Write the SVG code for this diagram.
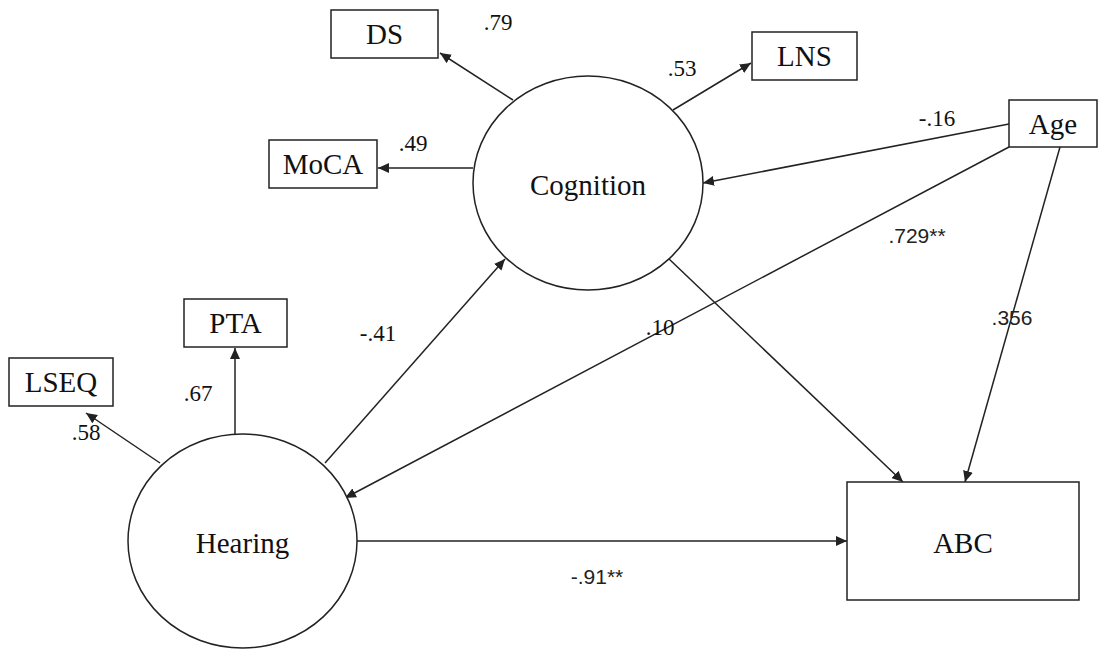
<svg xmlns="http://www.w3.org/2000/svg" width="1103" height="649" viewBox="0 0 1103 649">
<style>
.box{fill:#fff;stroke:#222;stroke-width:1.5}
.lat{fill:#fff;stroke:#222;stroke-width:1.5}
.nt{font-family:"Liberation Serif",serif;font-size:29px;fill:#111;text-anchor:middle;dominant-baseline:central}
.lbl{font-family:"Liberation Serif",serif;font-size:23px;fill:#111;text-anchor:middle}
.lbs{font-family:"Liberation Sans",sans-serif;font-size:21px;fill:#222;text-anchor:middle}
.edge{stroke:#222;stroke-width:1.5;fill:none;marker-end:url(#ah)}
</style>
<defs>
<marker id="ah" markerUnits="userSpaceOnUse" markerWidth="12" markerHeight="10" refX="11" refY="5" orient="auto">
<path d="M0,0 L11,5 L0,10 Z" fill="#222"/>
</marker>
</defs>
<rect width="1103" height="649" fill="#fff"/>
<g id="connectors">
<line class="edge" x1="513" y1="100" x2="440" y2="53"/>
<line class="edge" x1="473" y1="168" x2="378" y2="168"/>
<line class="edge" x1="673" y1="110" x2="751" y2="63"/>
<line class="edge" x1="1009" y1="124" x2="703" y2="183"/>
<line class="edge" x1="1009" y1="147" x2="345" y2="498"/>
<line class="edge" x1="1060" y1="147" x2="965" y2="482"/>
<line class="edge" x1="668" y1="258" x2="903" y2="482"/>
<line class="edge" x1="325" y1="463" x2="505" y2="259"/>
<line class="edge" x1="357" y1="541" x2="847" y2="541"/>
<line class="edge" x1="235" y1="434" x2="235" y2="348"/>
<line class="edge" x1="160" y1="463" x2="86" y2="413"/>
<text class="lbl" x="498" y="30">.79</text>
<text class="lbl" x="682" y="76">.53</text>
<text class="lbl" x="413" y="151">.49</text>
<text class="lbl" x="937" y="126">-.16</text>
<text class="lbs" x="917" y="243">.729**</text>
<text class="lbl" x="660" y="335">.10</text>
<text class="lbs" x="1012" y="325">.356</text>
<text class="lbl" x="378" y="341">-.41</text>
<text class="lbl" x="198" y="401">.67</text>
<text class="lbl" x="86" y="440">.58</text>
<text class="lbs" x="597" y="584">-.91**</text>
</g>
<g id="DS"><rect class="box" x="331" y="10" width="107" height="48"/><text class="nt" x="384.5" y="34">DS</text></g>
<g id="MoCA"><rect class="box" x="269" y="140" width="108" height="48"/><text class="nt" x="323" y="164">MoCA</text></g>
<g id="LNS"><rect class="box" x="752" y="32" width="105" height="48"/><text class="nt" x="804.5" y="56">LNS</text></g>
<g id="Age"><rect class="box" x="1009" y="100" width="88" height="47"/><text class="nt" x="1053" y="123.5">Age</text></g>
<g id="PTA"><rect class="box" x="184" y="299" width="103" height="48"/><text class="nt" x="235.5" y="323">PTA</text></g>
<g id="LSEQ"><rect class="box" x="9" y="358" width="104" height="48"/><text class="nt" x="61" y="382">LSEQ</text></g>
<g id="ABC"><rect class="box" x="847" y="482" width="232" height="118"/><text class="nt" x="963" y="543">ABC</text></g>
<g id="Cognition"><ellipse class="lat" cx="588" cy="183" rx="115" ry="107"/><text class="nt" x="588" y="185">Cognition</text></g>
<g id="Hearing"><ellipse class="lat" cx="242.5" cy="541" rx="114.5" ry="107"/><text class="nt" x="242.5" y="543">Hearing</text></g>
</svg>
